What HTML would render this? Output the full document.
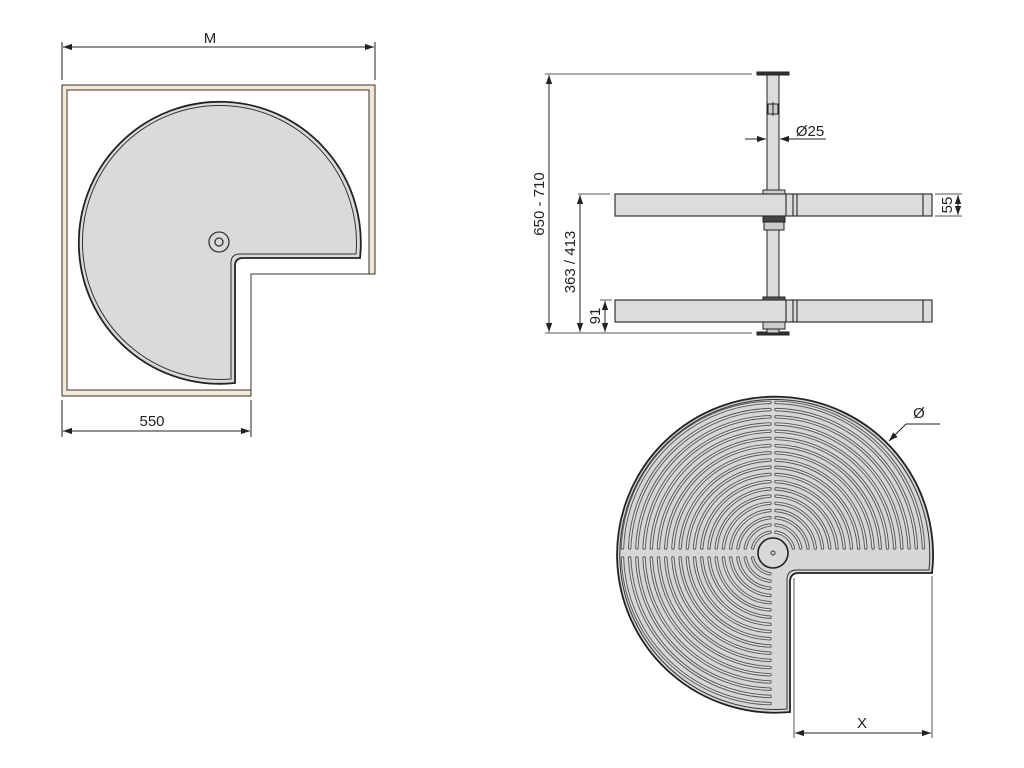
<!DOCTYPE html>
<html><head><meta charset="utf-8"><style>
html,body{margin:0;padding:0;background:#fff;}
svg{display:block;font-family:"Liberation Sans",Arial,sans-serif;}
</style></head><body>
<svg id="s" width="1024" height="768" viewBox="0 0 1024 768" xmlns="http://www.w3.org/2000/svg">
<defs>
<marker id="a" viewBox="0 0 10 10" refX="10" refY="5" markerWidth="9" markerHeight="9" markerUnits="userSpaceOnUse" orient="auto-start-reverse"><path d="M0,1.5 L10,5 L0,8.5 Z" fill="#222"/></marker>
</defs>
<g stroke="#222" stroke-width="1" fill="none">
<path d="M62,85 H375 V274 H251 V396 H62 Z" fill="#f5e8d2" stroke="#333"/>
<path d="M67,90 H369 V274 H251 V390 H67 Z" fill="#fff" stroke="#333"/>
<line x1="251" y1="274" x2="375" y2="274" stroke="#333"/>
<path d="M235,383 A141,141 0 1 1 360,258 L243,258 Q235,258 235,266 Z" fill="#dadada" stroke="#222" stroke-width="1.8"/>
<path d="M231,379 A137,137 0 1 1 356,254 L240,254 Q231,254 231,263 Z" stroke="#333" stroke-width="1"/>
<circle cx="219" cy="242" r="10" fill="#dadada" stroke="#333" stroke-width="1.3"/>
<circle cx="219" cy="242" r="4" fill="#dadada" stroke="#333" stroke-width="1.3"/>
<line x1="62" y1="42" x2="62" y2="80"/><line x1="375" y1="42" x2="375" y2="80"/>
<line x1="63" y1="47" x2="374" y2="47" marker-start="url(#a)" marker-end="url(#a)"/>
<line x1="62" y1="400" x2="62" y2="437"/><line x1="251" y1="400" x2="251" y2="437"/>
<line x1="63" y1="431" x2="250" y2="431" marker-start="url(#a)" marker-end="url(#a)"/>

<line x1="545" y1="74" x2="752" y2="74" stroke="#555"/>
<line x1="545" y1="333" x2="752" y2="333" stroke="#555"/>
<line x1="549" y1="75" x2="549" y2="332" marker-start="url(#a)" marker-end="url(#a)"/>
<line x1="578" y1="194" x2="610" y2="194" stroke="#555"/>
<line x1="580" y1="195" x2="580" y2="332" marker-start="url(#a)" marker-end="url(#a)"/>
<line x1="600" y1="300" x2="612" y2="300" stroke="#555"/>
<line x1="605" y1="301" x2="605" y2="332" marker-start="url(#a)" marker-end="url(#a)"/>
<line x1="935" y1="194" x2="962" y2="194" stroke="#555"/>
<line x1="935" y1="216" x2="962" y2="216" stroke="#555"/>
<line x1="958" y1="195" x2="958" y2="215" marker-start="url(#a)" marker-end="url(#a)"/>
<rect x="767" y="74" width="12" height="120" fill="#dcdcdc"/>
<rect x="767" y="230" width="12" height="70" fill="#dcdcdc"/>
<rect x="757" y="72" width="32" height="3" fill="#333"/>
<rect x="757" y="332" width="32" height="3" fill="#333"/>
<rect x="768" y="104" width="10" height="10" fill="#ccc"/>
<line x1="773" y1="102" x2="773" y2="116"/>
<rect x="763" y="190" width="22" height="5" fill="#ccc"/>
<rect x="763" y="216" width="22" height="6" fill="#444"/>
<rect x="764" y="222" width="20" height="8" fill="#ccc"/>
<rect x="763" y="297" width="22" height="4" fill="#555"/>
<rect x="763" y="322" width="22" height="7" fill="#ccc"/>
<rect x="767" y="329" width="12" height="4" fill="#ccc"/>
<g fill="#dcdcdc" stroke="#333" stroke-width="1.2">
<rect x="615" y="194" width="317" height="22"/>
<rect x="615" y="300" width="317" height="22"/>
</g>
<g stroke="#333" stroke-width="1.2">
<line x1="786" y1="194" x2="786" y2="216"/><line x1="793" y1="194" x2="793" y2="216"/><line x1="797" y1="194" x2="797" y2="216"/><line x1="923" y1="194" x2="923" y2="216"/>
<line x1="786" y1="300" x2="786" y2="322"/><line x1="793" y1="300" x2="793" y2="322"/><line x1="797" y1="300" x2="797" y2="322"/><line x1="923" y1="300" x2="923" y2="322"/>
</g>
<line x1="745" y1="139" x2="766" y2="139" marker-end="url(#a)"/>
<line x1="826" y1="139" x2="780" y2="139" marker-end="url(#a)"/>

<path d="M790,712 A158,158 0 1 1 932,573 L799,573 Q790,573 790,582 Z" fill="#d6d6d6" stroke="#222" stroke-width="1.8"/>
<path d="M787,709 A155,155 0 1 1 929,570 L797,570 Q787,570 787,580 Z" stroke="#333" stroke-width="1"/>
<g id="gr"></g>
<circle cx="773" cy="553" r="15" fill="#d8d8d8" stroke="#222" stroke-width="1.6"/>
<circle cx="773" cy="553" r="2" stroke="#333"/>
<line x1="794" y1="578" x2="794" y2="738" stroke="#555"/>
<line x1="932" y1="576" x2="932" y2="738" stroke="#555"/>
<line x1="795" y1="733" x2="931" y2="733" marker-start="url(#a)" marker-end="url(#a)"/>
<line x1="940" y1="424" x2="906" y2="424"/>
<line x1="906" y1="424" x2="889" y2="441" marker-end="url(#a)"/>
</g>
<g fill="#222" font-size="15">
<text x="210" y="43" text-anchor="middle">M</text>
<text x="152" y="426" text-anchor="middle">550</text>
<text x="810" y="136" text-anchor="middle">Ø25</text>
<text transform="translate(544,204) rotate(-90)" text-anchor="middle">650 - 710</text>
<text transform="translate(575,262) rotate(-90)" text-anchor="middle">363 / 413</text>
<text transform="translate(600,316) rotate(-90)" text-anchor="middle">91</text>
<text transform="translate(952,205) rotate(-90)" text-anchor="middle">55</text>
<text x="919" y="418" text-anchor="middle">Ø</text>
<text x="862" y="728" text-anchor="middle">X</text>
</g>
<script>
(function(){
var cx=773,cy=553,g=document.getElementById('gr'),ns='http://www.w3.org/2000/svg',d='';
for(var i=0;i<19;i++){
 var r=21+i*7.2, gx=3, gy=5;
 var sx=Math.sqrt(r*r-gy*gy), sy=Math.sqrt(r*r-gx*gx);
 d+='M'+(cx-sx)+','+(cy-gy)+' A'+r+','+r+' 0 0 1 '+(cx-gx)+','+(cy-sy)+' ';
 d+='M'+(cx+gx)+','+(cy-sy)+' A'+r+','+r+' 0 0 1 '+(cx+sx)+','+(cy-gy)+' ';
 d+='M'+(cx-gx)+','+(cy+sy)+' A'+r+','+r+' 0 0 1 '+(cx-sx)+','+(cy+gy)+' ';
}
var p1=document.createElementNS(ns,'path');p1.setAttribute('d',d);p1.setAttribute('stroke','#555');p1.setAttribute('stroke-width','3.4');p1.setAttribute('stroke-linecap','round');p1.setAttribute('fill','none');
var p2=document.createElementNS(ns,'path');p2.setAttribute('d',d);p2.setAttribute('stroke','#dedede');p2.setAttribute('stroke-width','1.5');p2.setAttribute('stroke-linecap','round');p2.setAttribute('fill','none');
g.appendChild(p1);g.appendChild(p2);
})();
</script>
</svg>
</body></html>
